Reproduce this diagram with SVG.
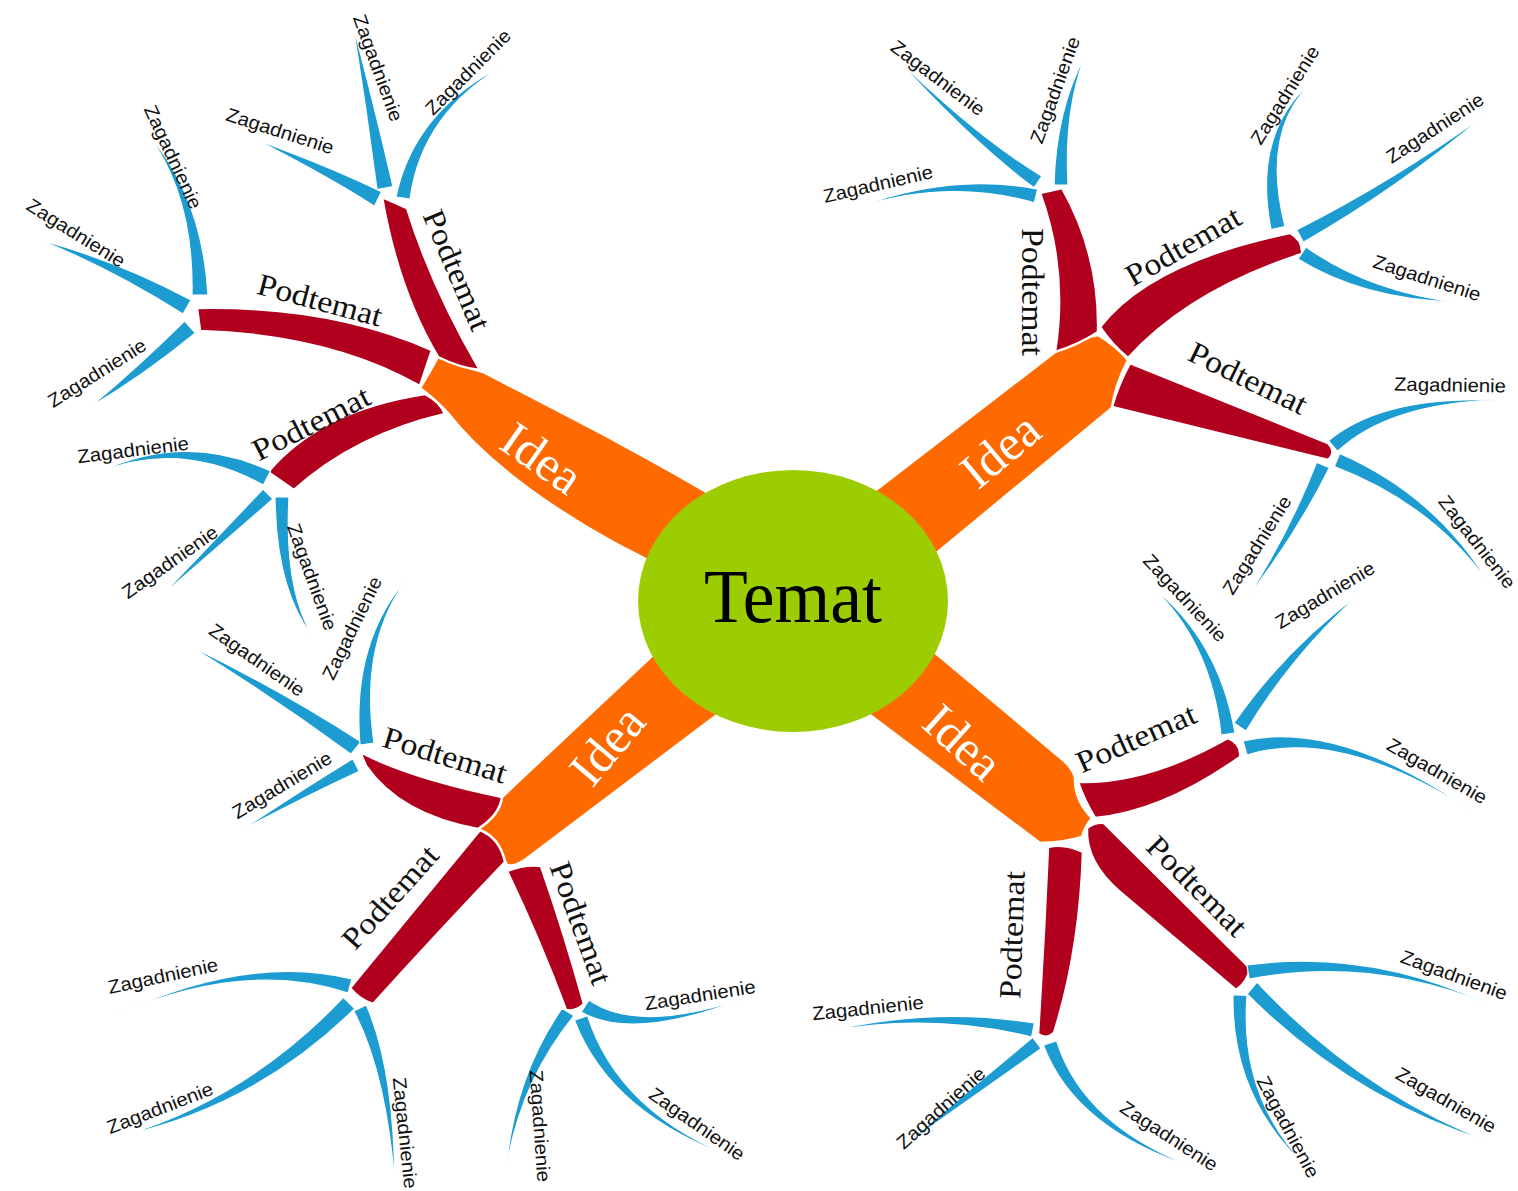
<svg xmlns="http://www.w3.org/2000/svg" width="1518" height="1191" viewBox="0 0 1518 1191">
<style>
.o{fill:#fe6a00;stroke:#fff;stroke-width:2.5;stroke-linejoin:round}
.r{fill:#b1001e;stroke:#fff;stroke-width:2.5;stroke-linejoin:round}
.b{fill:#1c9cd0;stroke:#fff;stroke-width:1.2;stroke-linejoin:round}
.z{font-family:"Liberation Sans",Arial,sans-serif;font-size:19px;fill:#111;text-anchor:middle;dominant-baseline:central}
.p{font-family:"Liberation Serif","Times New Roman",serif;font-size:31px;fill:#111;text-anchor:middle;dominant-baseline:central}
.i{font-family:"Liberation Serif","Times New Roman",serif;font-size:50px;fill:#fff;text-anchor:middle;dominant-baseline:central}
.t{font-family:"Liberation Serif","Times New Roman",serif;font-size:76px;fill:#000;text-anchor:middle}
</style>
<rect width="1518" height="1191" fill="#fff"/>
<g id="connectors">
  <g id="idea-branches">
    <path class="o" d="M 483 372 C 560 412 640 452 720 500 L 680 575 C 600 540 500 480 447 412 Q 436 400 420 388 Q 430 372 438 357 Z"/>
    <path class="o" d="M 1055 352 Q 1078 338 1098 335 Q 1115 345 1128 360 Q 1115 385 1112 408 L 910 575 L 850 510 Z"/>
    <path class="o" d="M 502 797 L 690 620 L 750 690 L 530 856 Q 515 868 507 865 Q 498 845 478 828 Q 492 815 502 797 Z"/>
    <path class="o" d="M 920 640 L 1063 760 Q 1072 768 1075 777 Q 1074 800 1092 818 Q 1084 828 1082 837 Q 1062 843 1040 843 L 850 700 Z"/>
  </g>
  <g id="podtemat-branches">
    <path class="r" d="M 382 197 L 407 208 Q 432 288 480 370 Q 460 368 438 357 Q 398 290 382 197 Z"/>
    <path class="r" d="M 197 308 Q 330 305 432 350 L 420 386 Q 330 335 200 331 Z"/>
    <path class="r" d="M 268 472 Q 320 410 425 394 Q 440 402 445 414 Q 355 435 294 490 Z"/>
    <path class="r" d="M 1040 193 L 1062 188 Q 1100 255 1098 332 Q 1078 345 1055 352 Q 1068 270 1040 193 Z"/>
    <path class="r" d="M 1100 327 Q 1150 262 1290 233 Q 1303 240 1302 254 Q 1190 290 1128 358 Q 1112 345 1100 327 Z"/>
    <path class="r" d="M 1130 363 L 1328 443 Q 1337 452 1328 460 L 1112 407 Q 1118 385 1130 363 Z"/>
    <path class="r" d="M 360 752 Q 410 778 502 797 Q 500 815 478 829 Q 400 815 366 766 Z"/>
    <path class="r" d="M 480 830 Q 500 838 505 862 Q 440 930 373 1004 Q 360 1000 350 988 Q 410 915 480 830 Z"/>
    <path class="r" d="M 507 871 Q 525 864 541 866 Q 565 935 584 1004 Q 576 1012 566 1010 Q 540 940 507 871 Z"/>
    <path class="r" d="M 1078 782 Q 1147 784 1228 738 Q 1242 744 1240 757 Q 1162 812 1095 818 Q 1084 800 1078 782 Z"/>
    <path class="r" d="M 1048 847 Q 1065 843 1083 852 Q 1080 950 1054 1033 Q 1046 1040 1038 1034 Q 1044 940 1048 847 Z"/>
    <path class="r" d="M 1087 828 Q 1095 822 1104 823 L 1250 968 Q 1248 982 1236 990 L 1120 892 Q 1085 862 1087 828 Z"/>
  </g>
  <g id="zagadnienie-branches">
    <path class="b" d="M 381.5 191.8 Q 334 168.5 257 140 Q 330 177.5 374.5 206.2 Z"/>
    <path class="b" d="M 393 186.5 Q 374 104 353 25 Q 366 106 377 189.5 Z"/>
    <path class="b" d="M 410 199 Q 422 111 508 63 Q 414 109 396 197 Z"/>
    <path class="b" d="M 208 295 Q 202 195 147 133 Q 194 195 192 295 Z"/>
    <path class="b" d="M 191 300 Q 117.5 260.7 40 240 Q 112.5 269.3 183 314 Z"/>
    <path class="b" d="M 184.6 321 Q 136.6 368.3 90 407 Q 143.4 375.7 195.4 333 Z"/>
    <path class="b" d="M 270.6 470.9 Q 184 431 97 473 Q 180 439 263.4 485.1 Z"/>
    <path class="b" d="M 263 489 Q 212.6 542.5 160 597 Q 217.4 547.5 273 499 Z"/>
    <path class="b" d="M 275 497 Q 276 590 313 637 Q 284 590 289 497 Z"/>
    <path class="b" d="M 1037.7 189.2 Q 951 172 855 208 Q 949 178 1034.3 202.8 Z"/>
    <path class="b" d="M 1041.9 176.2 Q 977 137 893 55 Q 973 143 1034.1 187.8 Z"/>
    <path class="b" d="M 1068 185 Q 1064 110 1085 56 Q 1056 110 1054 185 Z"/>
    <path class="b" d="M 1285 226.5 Q 1259 124 1320 75 Q 1251 126 1271 229.5 Z"/>
    <path class="b" d="M 1303.3 242.2 Q 1397 189 1485 115 Q 1393 181 1296.7 229.8 Z"/>
    <path class="b" d="M 1298 259 Q 1362 299 1455 302 Q 1368 291 1306 247 Z"/>
    <path class="b" d="M 1337.6 451.3 Q 1388 404 1495 400 Q 1382 396 1328.4 440.7 Z"/>
    <path class="b" d="M 1316.6 462.2 Q 1289 533.5 1247 598 Q 1295 536.5 1329.4 467.8 Z"/>
    <path class="b" d="M 1334.3 466.5 Q 1433 504 1490 585 Q 1437 496 1339.7 453.5 Z"/>
    <path class="b" d="M 361 741.8 Q 279 689 190 646 Q 273 697 351 754.2 Z"/>
    <path class="b" d="M 374 743 Q 359 640 410 575 Q 351 640 360 745 Z"/>
    <path class="b" d="M 352.7 758.8 Q 298.5 792 240 831 Q 301.5 798 359.3 771.2 Z"/>
    <path class="b" d="M 352 979 Q 249 953 115 1015 Q 245 959 348 993 Z"/>
    <path class="b" d="M 343.3 997.4 Q 249 1097 125 1135 Q 257 1105 354.7 1008.6 Z"/>
    <path class="b" d="M 353.7 1011 Q 386 1072 395 1185 Q 394 1068 366.3 1005 Z"/>
    <path class="b" d="M 581.2 1011.9 Q 632 1042 745 998 Q 638 1034 588.8 1000.1 Z"/>
    <path class="b" d="M 562 1008.3 Q 514 1078 506 1170 Q 520 1082 574 1015.7 Z"/>
    <path class="b" d="M 574.4 1020.3 Q 611 1116 740 1160 Q 619 1114 587.6 1015.7 Z"/>
    <path class="b" d="M 1235 733 Q 1219 639 1150 585 Q 1211 641 1221 735 Z"/>
    <path class="b" d="M 1246 731 Q 1294 652 1362 592 Q 1286 648 1234 723 Z"/>
    <path class="b" d="M 1247 755 Q 1341 726 1478 815 Q 1339 718 1243 741 Z"/>
    <path class="b" d="M 1034.4 1023 Q 932 1006 825 1032 Q 930 1012 1031.6 1037 Z"/>
    <path class="b" d="M 1032.8 1037.4 Q 975 1085 902 1147 Q 981 1091 1041.2 1048.6 Z"/>
    <path class="b" d="M 1043.4 1045.3 Q 1076 1132 1202 1170 Q 1084 1128 1056.6 1040.7 Z"/>
    <path class="b" d="M 1249.1 979 Q 1372 956 1490 1005 Q 1370 948 1246.9 965 Z"/>
    <path class="b" d="M 1247 994 Q 1352 1099 1490 1142 Q 1358 1091 1257 982 Z"/>
    <path class="b" d="M 1233 994.7 Q 1231 1100 1310 1170 Q 1239 1100 1247 995.3 Z"/>
  </g>
</g>
<g id="temat">
  <ellipse cx="793" cy="601" rx="155" ry="131" fill="#9ccc02"/>
  <text class="t" x="793" y="622" textLength="178" lengthAdjust="spacingAndGlyphs">Temat</text>
</g>
<g id="idea-ul"><text class="i" transform="translate(542 458) rotate(35)">Idea</text></g>
<g id="idea-ur"><text class="i" transform="translate(1000 450) rotate(-40)">Idea</text></g>
<g id="idea-ll"><text class="i" transform="translate(607 745) rotate(-50)">Idea</text></g>
<g id="idea-lr"><text class="i" transform="translate(963 742) rotate(42)">Idea</text></g>
<g id="podtemat-ul-1"><text class="p" transform="translate(457 270) rotate(67)" textLength="128" lengthAdjust="spacingAndGlyphs">Podtemat</text></g>
<g id="podtemat-ul-2"><text class="p" transform="translate(320 300) rotate(15)" textLength="128" lengthAdjust="spacingAndGlyphs">Podtemat</text></g>
<g id="podtemat-ul-3"><text class="p" transform="translate(311 423) rotate(-27)" textLength="128" lengthAdjust="spacingAndGlyphs">Podtemat</text></g>
<g id="podtemat-ur-1"><text class="p" transform="translate(1032 292) rotate(90)" textLength="128" lengthAdjust="spacingAndGlyphs">Podtemat</text></g>
<g id="podtemat-ur-2"><text class="p" transform="translate(1183 246) rotate(-30)" textLength="128" lengthAdjust="spacingAndGlyphs">Podtemat</text></g>
<g id="podtemat-ur-3"><text class="p" transform="translate(1248 378) rotate(26)" textLength="128" lengthAdjust="spacingAndGlyphs">Podtemat</text></g>
<g id="podtemat-ll-1"><text class="p" transform="translate(445 755) rotate(17)" textLength="128" lengthAdjust="spacingAndGlyphs">Podtemat</text></g>
<g id="podtemat-ll-2"><text class="p" transform="translate(390 897) rotate(-48)" textLength="128" lengthAdjust="spacingAndGlyphs">Podtemat</text></g>
<g id="podtemat-ll-3"><text class="p" transform="translate(581 923) rotate(70)" textLength="128" lengthAdjust="spacingAndGlyphs">Podtemat</text></g>
<g id="podtemat-lr-1"><text class="p" transform="translate(1136 738) rotate(-24)" textLength="128" lengthAdjust="spacingAndGlyphs">Podtemat</text></g>
<g id="podtemat-lr-2"><text class="p" transform="translate(1012 935) rotate(-88)" textLength="128" lengthAdjust="spacingAndGlyphs">Podtemat</text></g>
<g id="podtemat-lr-3"><text class="p" transform="translate(1197 886) rotate(45)" textLength="128" lengthAdjust="spacingAndGlyphs">Podtemat</text></g>
<g id="zagadnienia">
<g id="z01"><text class="z" transform="translate(280 131) rotate(18)" textLength="112" lengthAdjust="spacingAndGlyphs">Zagadnienie</text></g>
<g id="z02"><text class="z" transform="translate(378 68) rotate(70)" textLength="112" lengthAdjust="spacingAndGlyphs">Zagadnienie</text></g>
<g id="z03"><text class="z" transform="translate(468 72) rotate(-45)" textLength="112" lengthAdjust="spacingAndGlyphs">Zagadnienie</text></g>
<g id="z04"><text class="z" transform="translate(173 157) rotate(65)" textLength="112" lengthAdjust="spacingAndGlyphs">Zagadnienie</text></g>
<g id="z05"><text class="z" transform="translate(76 233) rotate(32)" textLength="112" lengthAdjust="spacingAndGlyphs">Zagadnienie</text></g>
<g id="z06"><text class="z" transform="translate(97 373) rotate(-32)" textLength="112" lengthAdjust="spacingAndGlyphs">Zagadnienie</text></g>
<g id="z07"><text class="z" transform="translate(133 450) rotate(-7)" textLength="112" lengthAdjust="spacingAndGlyphs">Zagadnienie</text></g>
<g id="z08"><text class="z" transform="translate(170 562) rotate(-35)" textLength="112" lengthAdjust="spacingAndGlyphs">Zagadnienie</text></g>
<g id="z09"><text class="z" transform="translate(312 577) rotate(70)" textLength="112" lengthAdjust="spacingAndGlyphs">Zagadnienie</text></g>
<g id="z10"><text class="z" transform="translate(878 184) rotate(-13)" textLength="112" lengthAdjust="spacingAndGlyphs">Zagadnienie</text></g>
<g id="z11"><text class="z" transform="translate(938 78) rotate(37)" textLength="112" lengthAdjust="spacingAndGlyphs">Zagadnienie</text></g>
<g id="z12"><text class="z" transform="translate(1055 90) rotate(-70)" textLength="112" lengthAdjust="spacingAndGlyphs">Zagadnienie</text></g>
<g id="z13"><text class="z" transform="translate(1285 95) rotate(-58)" textLength="112" lengthAdjust="spacingAndGlyphs">Zagadnienie</text></g>
<g id="z14"><text class="z" transform="translate(1435 128) rotate(-33)" textLength="112" lengthAdjust="spacingAndGlyphs">Zagadnienie</text></g>
<g id="z15"><text class="z" transform="translate(1427 278) rotate(18)" textLength="112" lengthAdjust="spacingAndGlyphs">Zagadnienie</text></g>
<g id="z16"><text class="z" transform="translate(1450 385) rotate(1)" textLength="112" lengthAdjust="spacingAndGlyphs">Zagadnienie</text></g>
<g id="z17"><text class="z" transform="translate(1257 545) rotate(-58)" textLength="112" lengthAdjust="spacingAndGlyphs">Zagadnienie</text></g>
<g id="z18"><text class="z" transform="translate(1477 542) rotate(52)" textLength="112" lengthAdjust="spacingAndGlyphs">Zagadnienie</text></g>
<g id="z19"><text class="z" transform="translate(257 660) rotate(35)" textLength="112" lengthAdjust="spacingAndGlyphs">Zagadnienie</text></g>
<g id="z20"><text class="z" transform="translate(352 628) rotate(-64)" textLength="112" lengthAdjust="spacingAndGlyphs">Zagadnienie</text></g>
<g id="z21"><text class="z" transform="translate(282 785) rotate(-31)" textLength="112" lengthAdjust="spacingAndGlyphs">Zagadnienie</text></g>
<g id="z22"><text class="z" transform="translate(163 976) rotate(-12)" textLength="112" lengthAdjust="spacingAndGlyphs">Zagadnienie</text></g>
<g id="z23"><text class="z" transform="translate(160 1108) rotate(-21)" textLength="112" lengthAdjust="spacingAndGlyphs">Zagadnienie</text></g>
<g id="z24"><text class="z" transform="translate(405 1133) rotate(84)" textLength="112" lengthAdjust="spacingAndGlyphs">Zagadnienie</text></g>
<g id="z25"><text class="z" transform="translate(700 995) rotate(-9)" textLength="112" lengthAdjust="spacingAndGlyphs">Zagadnienie</text></g>
<g id="z26"><text class="z" transform="translate(540 1126) rotate(86)" textLength="112" lengthAdjust="spacingAndGlyphs">Zagadnienie</text></g>
<g id="z27"><text class="z" transform="translate(697 1124) rotate(35)" textLength="112" lengthAdjust="spacingAndGlyphs">Zagadnienie</text></g>
<g id="z28"><text class="z" transform="translate(1185 598) rotate(47)" textLength="112" lengthAdjust="spacingAndGlyphs">Zagadnienie</text></g>
<g id="z29"><text class="z" transform="translate(1325 595) rotate(-31)" textLength="112" lengthAdjust="spacingAndGlyphs">Zagadnienie</text></g>
<g id="z30"><text class="z" transform="translate(1437 771) rotate(30)" textLength="112" lengthAdjust="spacingAndGlyphs">Zagadnienie</text></g>
<g id="z31"><text class="z" transform="translate(868 1008) rotate(-6)" textLength="112" lengthAdjust="spacingAndGlyphs">Zagadnienie</text></g>
<g id="z32"><text class="z" transform="translate(941 1108) rotate(-42)" textLength="112" lengthAdjust="spacingAndGlyphs">Zagadnienie</text></g>
<g id="z33"><text class="z" transform="translate(1169 1136) rotate(33)" textLength="112" lengthAdjust="spacingAndGlyphs">Zagadnienie</text></g>
<g id="z34"><text class="z" transform="translate(1454 975) rotate(20)" textLength="112" lengthAdjust="spacingAndGlyphs">Zagadnienie</text></g>
<g id="z35"><text class="z" transform="translate(1446 1100) rotate(30)" textLength="112" lengthAdjust="spacingAndGlyphs">Zagadnienie</text></g>
<g id="z36"><text class="z" transform="translate(1288 1127) rotate(62)" textLength="112" lengthAdjust="spacingAndGlyphs">Zagadnienie</text></g>
</g>
</svg>
